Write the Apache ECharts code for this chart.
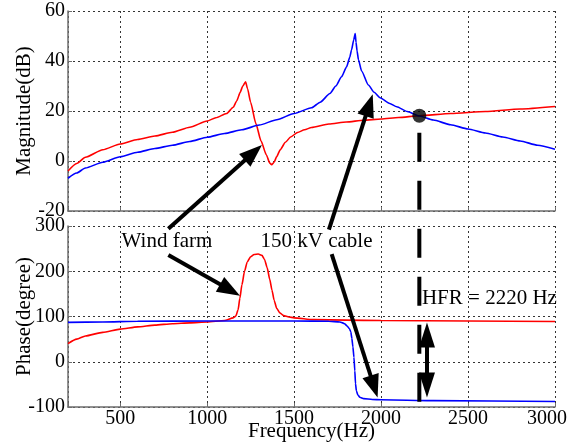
<!DOCTYPE html>
<html><head><meta charset="utf-8">
<script src="https://cdn.jsdelivr.net/npm/echarts@6/dist/echarts.min.js"></script>
<style>html,body{margin:0;padding:0;background:#fff}#c{width:576px;height:446px}</style>
</head><body><div id="c"></div>
<script>
// ---- data ----
const freqTicks = [500, 1000, 1500, 2000, 2500, 3000];
const magTicks = [-20, 0, 20, 40, 60];
const phaseTicks = [-100, 0, 100, 200, 300];

const windMagFreq = [200,250,300,400,500,600,700,800,900,1000,1050,1112,1150,1170,1190,1205,1221,1232,1250,1280,1310,1340,1360,1371,1385,1400,1420,1450,1480,1520,1560,1600,1700,1800,1900,2000,2100,2220,2400,2600,2800,3000];
const windMagDb   = [-4,-1,1.5,4.5,6.8,8.6,10,11.5,13.5,16,17.3,19,21.5,24,27.5,30,31.7,29,23.5,15,8,2.5,-0.8,-1.5,-0.5,1.8,4.5,7.5,9.6,11.4,12.5,13.4,14.8,15.6,16.3,16.8,17.4,18.1,19,19.8,20.8,21.8];

const cableMagFreq = [200,250,300,400,500,600,700,800,900,1000,1100,1200,1300,1400,1500,1600,1650,1706,1740,1773,1802,1820,1830,1843,1851,1856,1862,1870,1888,1927,1960,1994,2050,2090,2150,2220,2300,2400,2500,2600,2700,2800,2900,3000];
const cableMagDb   = [-6.9,-4.8,-2.8,-0.5,1.7,3.5,5,6.3,7.8,9.5,11,12.5,14.4,16.5,19,21.3,23.5,27,30,33.7,37.7,41.5,44.4,48.5,51,47.5,44,40.5,36,30.4,27.5,25.3,23,21.7,19.8,18,16.4,14.5,12.8,11.2,9.6,8,6.3,4.7];

const windPhaseFreq = [200,250,300,400,500,600,700,800,900,1000,1100,1150,1165,1178,1188,1200,1215,1230,1250,1270,1294,1315,1330,1345,1360,1373,1385,1400,1418,1440,1470,1500,1610,1800,2000,2500,3000];
const windPhaseDeg  = [40,50,57,65,72,77,81,84,86,88,91,97,101,115,140,170,200,220,232,237,238,235,226,208,182,158,136,118,108,102,99,97,93,92,91,90,89];

const cablePhaseFreq = [200,400,600,1000,1500,1700,1763,1790,1805,1818,1826,1832,1838,1844,1849,1853,1858,1866,1878,1900,1950,2000,2300,3000];
const cablePhaseDeg  = [87,88,89.5,90,90,89.5,88,84,79,73,66,52,33,10,-20,-48,-64,-73,-78.5,-81.5,-83.5,-84,-86,-88];

const hfrPoint = [2220, 18.1];

const zip = (a, b) => a.map((v, i) => [v, b[i]]);
const FONT = 'Liberation Serif';

const chart = echarts.init(document.getElementById('c'), null, {renderer: 'canvas'});

function xAxis(gi, showLabels) {
  return {
    gridIndex: gi, type: 'value', min: 200, max: 3000, splitNumber: 5,
    axisLine: {show: true, onZero: false, lineStyle: {color: '#6e6e6e', width: 1.5}},
    axisTick: {show: true, inside: true, length: 4, lineStyle: {color: '#6e6e6e'}},
    splitLine: {show: true, lineStyle: {color: '#333', type: [2, 3], width: 1}},
    axisLabel: {
      show: showLabels, margin: 2, color: '#000',
      fontFamily: FONT, fontSize: 20,
      customValues: freqTicks,
      formatter: v => v === 3000 ? '{r|' + v + '}' : String(v),
      rich: {r: {fontFamily: FONT, fontSize: 20, color: '#000', padding: [0, 16, 0, 0]}}
    },
    name: showLabels ? 'Frequency(Hz)' : '',
    nameLocation: 'middle', nameGap: 14, nameMoveOverlap: false,
    nameTextStyle: {fontFamily: FONT, fontSize: 21, color: '#000'}
  };
}
function yAxis(gi, min, max, interval, name) {
  return {
    gridIndex: gi, type: 'value', min, max, interval,
    axisLine: {show: true, lineStyle: {color: '#6e6e6e', width: 1.5}},
    axisTick: {show: true, inside: true, length: 4, lineStyle: {color: '#6e6e6e'}},
    splitLine: {show: true, lineStyle: {color: '#333', type: [2, 3], width: 1}},
    axisLabel: {margin: 3, color: '#000', fontFamily: FONT, fontSize: 20},
    name, nameLocation: 'middle', nameGap: 33, nameMoveOverlap: false,
    nameTextStyle: {fontFamily: FONT, fontSize: 21, color: '#000'}
  };
}

const lineS = (xi, data, color) => ({
  type: 'line', xAxisIndex: xi, yAxisIndex: xi, data, showSymbol: false,
  smooth: 0.2, smoothMonotone: 'x',
  lineStyle: {color, width: 1.6}, itemStyle: {color}, silent: true, animation: false
});

chart.setOption({
  animation: false,
  backgroundColor: '#fff',
  grid: [
    {left: 68, right: 21, top: 11, height: 200, outerBoundsMode: 'none', containLabel: false},
    {left: 68, right: 21, top: 226, height: 181, outerBoundsMode: 'none', containLabel: false}
  ],
  xAxis: [xAxis(0, false), xAxis(1, true)],
  yAxis: [yAxis(0, magTicks[0], magTicks[magTicks.length - 1], 20, 'Magnitude(dB)'),
          yAxis(1, phaseTicks[0], phaseTicks[phaseTicks.length - 1], 100, 'Phase(degree)')],
  series: [
    lineS(0, zip(windMagFreq, windMagDb), '#ff0000'),
    lineS(0, zip(cableMagFreq, cableMagDb), '#0000ff'),
    lineS(1, zip(windPhaseFreq, windPhaseDeg), '#ff0000'),
    lineS(1, zip(cablePhaseFreq, cablePhaseDeg), '#0000ff'),
    {type: 'scatter', xAxisIndex: 0, yAxisIndex: 0, data: [hfrPoint], symbolSize: 14,
     itemStyle: {color: '#000'}, silent: true, z: 5}
  ]
});

// ---- annotations, anchored in data coordinates ----
const px = (gi, p) => chart.convertToPixel({xAxisIndex: gi, yAxisIndex: gi}, p);

function arrowHead(tip, from, hl, hw) {
  const dx = tip[0] - from[0], dy = tip[1] - from[1];
  const L = Math.hypot(dx, dy), ux = dx / L, uy = dy / L;
  const bx = tip[0] - ux * hl, by = tip[1] - uy * hl, nx = -uy, ny = ux;
  return {
    base: [bx + ux * 2, by + uy * 2],
    el: {type: 'polygon', z: 10, shape: {points: [tip, [bx + nx * hw / 2, by + ny * hw / 2], [bx - nx * hw / 2, by - ny * hw / 2]]},
         style: {fill: '#000'}}
  };
}
function arrow(p0, p1) {
  const h = arrowHead(p1, p0, 23, 17);
  return [
    {type: 'line', z: 10, shape: {x1: p0[0], y1: p0[1], x2: h.base[0], y2: h.base[1]}, style: {stroke: '#000', lineWidth: 4}},
    h.el
  ];
}
function dblArrow(p0, p1) {
  const h1 = arrowHead(p1, p0, 25, 16), h0 = arrowHead(p0, p1, 25, 16);
  return [
    {type: 'line', z: 10, shape: {x1: h0.base[0], y1: h0.base[1], x2: h1.base[0], y2: h1.base[1]}, style: {stroke: '#000', lineWidth: 4}},
    h0.el, h1.el
  ];
}

const g = [];
g.push(...arrow(px(1, [777, 294]), px(0, [1315, 6.4])));
g.push(...arrow(px(1, [777, 236]), px(1, [1189, 146])));
g.push(...arrow(px(1, [1700, 292]), px(0, [1952, 26.7])));
g.push(...arrow(px(1, [1716, 238]), px(1, [1980, -79])));
g.push(...dblArrow(px(1, [2264, 87]), px(1, [2264, -79])));

const m = px(0, hfrPoint), dEnd = px(1, [hfrPoint[0], -90]);
g.push({type: 'line', z: 9, shape: {x1: m[0], y1: m[1] + 17, x2: dEnd[0], y2: dEnd[1]},
        style: {stroke: '#000', lineWidth: 4, lineDash: [29, 19]}});

const txt = (p, text, align) => ({type: 'text', z: 11, x: p[0], y: p[1],
  style: {text, fontFamily: FONT, fontSize: 21, fill: '#000', textAlign: align, textVerticalAlign: 'middle'}});
g.push(txt(px(1, [769, 265]), 'Wind farm', 'center'));
g.push(txt(px(1, [1629, 265]), '150 kV cable', 'center'));
g.push(txt(px(1, [2235, 139]), 'HFR = 2220 Hz', 'left'));

chart.setOption({graphic: g});
</script>
</body></html>
